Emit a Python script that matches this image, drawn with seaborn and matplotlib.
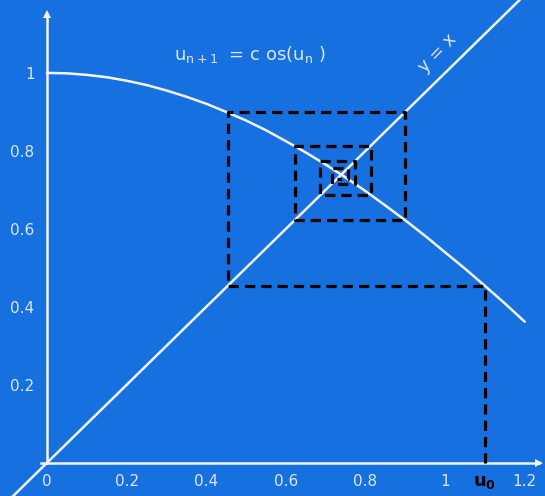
import numpy as np
import pandas as pd
import matplotlib
matplotlib.use("Agg")
import matplotlib.pyplot as plt
import seaborn as sns

# courbe u -> cos(u)
curve_x = [0.00, 0.05, 0.10, 0.15, 0.20, 0.25, 0.30, 0.35, 0.40, 0.45, 0.50, 0.55, 0.60,
           0.65, 0.70, 0.75, 0.80, 0.85, 0.90, 0.95, 1.00, 1.05, 1.10, 1.15, 1.20]
curve_y = [1.000, 0.999, 0.995, 0.989, 0.980, 0.969, 0.955, 0.939, 0.921, 0.900, 0.878, 0.853, 0.825,
           0.796, 0.765, 0.732, 0.697, 0.660, 0.622, 0.582, 0.540, 0.498, 0.454, 0.409, 0.362]

# droite y = x
diag_x = [-0.12, 1.26]
diag_y = [-0.12, 1.26]

# termes successifs de la suite (toile d'araignée)
iterates = [1.10, 0.454, 0.899, 0.622, 0.813, 0.687, 0.773, 0.716, 0.755, 0.728]

x_ticks = [0, 0.2, 0.4, 0.6, 0.8, 1, 1.2]
x_tick_labels = ["0", "0.2", "0.4", "0.6", "0.8", "1", "1.2"]
y_ticks = [0.2, 0.4, 0.6, 0.8, 1]
y_tick_labels = ["0.2", "0.4", "0.6", "0.8", "1"]

BG = "#1670e0"
FG = "#f2f6fc"
LBL = "#dce7f7"

sns.set_style("white")
plt.rcParams['font.family'] = ['DejaVu Sans']

fig = plt.figure(figsize=(5.45, 4.96), dpi=100, facecolor=BG)
ax = fig.add_axes([0, 0, 1, 1], facecolor=BG)

# chemin de la toile : (u0,0) -> (u0,u1) -> (u1,u1) -> (u1,u2) ...
web_x = [iterates[0]]
web_y = [0.0]
for i in range(len(iterates) - 1):
    web_x += [iterates[i], iterates[i + 1]]
    web_y += [iterates[i + 1], iterates[i + 1]]
web = pd.DataFrame({"x": web_x, "y": web_y})

sns.lineplot(x=diag_x, y=diag_y, ax=ax, color=FG, lw=1.8, sort=False, estimator=None)
sns.lineplot(x=curve_x, y=curve_y, ax=ax, color=FG, lw=1.8, sort=False, estimator=None)
sns.lineplot(data=web, x="x", y="y", ax=ax, color="black", lw=2.3, sort=False,
             estimator=None, dashes=False, zorder=5).lines[-1].set_dashes((3.2, 1.9))

# axes avec flèches
for side in ["top", "right"]:
    ax.spines[side].set_visible(False)
ax.spines["left"].set_position(("data", 0))
ax.spines["bottom"].set_position(("data", 0))
ax.spines["left"].set_bounds(0, 1.15)
ax.spines["bottom"].set_bounds(-0.015, 1.235)
for side in ["left", "bottom"]:
    ax.spines[side].set_color(FG)
    ax.spines[side].set_linewidth(1.8)
ax.plot(1.237, 0, marker=">", color=FG, ms=6, clip_on=False, markeredgewidth=0)
ax.plot(0, 1.152, marker="^", color=FG, ms=6, clip_on=False, markeredgewidth=0)

ax.set_xticks(x_ticks)
ax.set_xticklabels(x_tick_labels)
ax.set_yticks(y_ticks)
ax.set_yticklabels(y_tick_labels)
ax.tick_params(direction="inout", length=10, width=1.5, colors=FG, labelcolor=LBL,
               labelsize=11, pad=4)
ax.tick_params(axis="x", pad=3)

ax.set_xlim(-0.118, 1.251)
ax.set_ylim(-0.085, 1.187)
ax.set_xlabel("")
ax.set_ylabel("")

ax.text(0.32, 1.046, r"u$_{\mathrm{n+1}}$  = c os(u$_{\mathrm{n}}$ )", color=LBL,
        fontsize=13, ha="left", va="center")
ax.text(0.98, 1.05, "y = x", color=LBL, fontsize=12.5, rotation=46,
        ha="center", va="center")
ax.text(1.1, -0.05, r"u$_{\mathbf{0}}$", color="black", fontsize=13, fontweight="bold",
        ha="center", va="center")

fig.savefig("out.png", dpi=100, facecolor=BG)
